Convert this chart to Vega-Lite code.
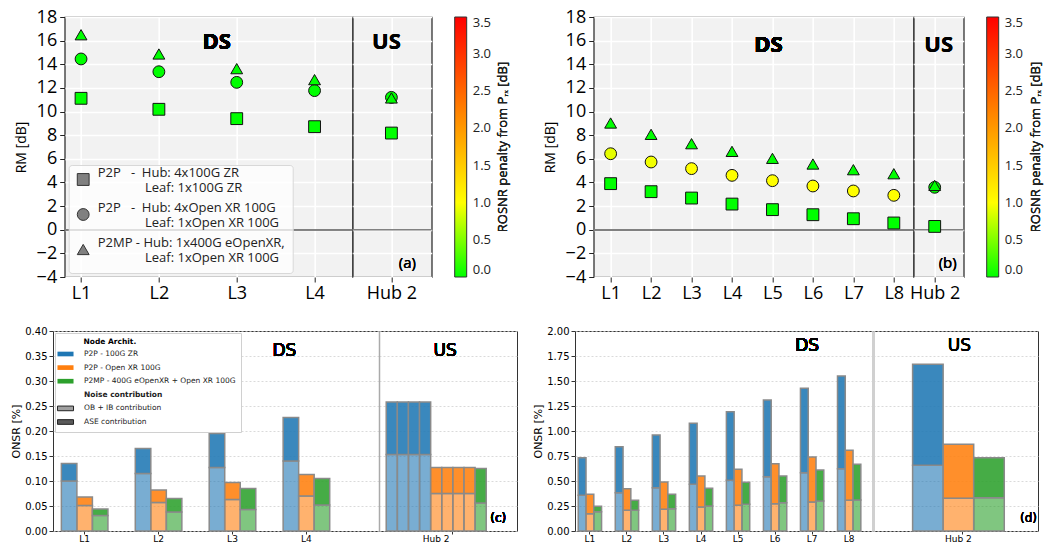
{
  "$schema": "https://vega.github.io/schema/vega-lite/v6.json",
  "background": "white",
  "padding": {"left": 10, "top": 7, "right": 2, "bottom": 2},
  "datasets": {
    "pa": [
      {"dir": "DS", "loc": "L1", "a": "ZR", "rm": 11.12, "p": 0},
      {"dir": "DS", "loc": "L1", "a": "XR", "rm": 14.45, "p": 0},
      {"dir": "DS", "loc": "L1", "a": "MP", "rm": 16.5, "p": 0},
      {"dir": "DS", "loc": "L2", "a": "ZR", "rm": 10.19, "p": 0},
      {"dir": "DS", "loc": "L2", "a": "XR", "rm": 13.37, "p": 0},
      {"dir": "DS", "loc": "L2", "a": "MP", "rm": 14.87, "p": 0},
      {"dir": "DS", "loc": "L3", "a": "ZR", "rm": 9.4, "p": 0},
      {"dir": "DS", "loc": "L3", "a": "XR", "rm": 12.47, "p": 0},
      {"dir": "DS", "loc": "L3", "a": "MP", "rm": 13.63, "p": 0},
      {"dir": "DS", "loc": "L4", "a": "ZR", "rm": 8.72, "p": 0},
      {"dir": "DS", "loc": "L4", "a": "XR", "rm": 11.77, "p": 0},
      {"dir": "DS", "loc": "L4", "a": "MP", "rm": 12.7, "p": 0},
      {"dir": "US", "loc": "Hub 2", "a": "ZR", "rm": 8.18, "p": 0},
      {"dir": "US", "loc": "Hub 2", "a": "XR", "rm": 11.2, "p": 0},
      {"dir": "US", "loc": "Hub 2", "a": "MP", "rm": 11.15, "p": 0}
    ],
    "pb": [
      {"dir": "DS", "loc": "L1", "a": "ZR", "rm": 3.9, "p": 0},
      {"dir": "DS", "loc": "L1", "a": "XR", "rm": 6.43, "p": 0.9},
      {"dir": "DS", "loc": "L1", "a": "MP", "rm": 9.03, "p": 0},
      {"dir": "DS", "loc": "L2", "a": "ZR", "rm": 3.22, "p": 0},
      {"dir": "DS", "loc": "L2", "a": "XR", "rm": 5.73, "p": 0.95},
      {"dir": "DS", "loc": "L2", "a": "MP", "rm": 8.07, "p": 0},
      {"dir": "DS", "loc": "L3", "a": "ZR", "rm": 2.68, "p": 0},
      {"dir": "DS", "loc": "L3", "a": "XR", "rm": 5.17, "p": 1.0},
      {"dir": "DS", "loc": "L3", "a": "MP", "rm": 7.28, "p": 0},
      {"dir": "DS", "loc": "L4", "a": "ZR", "rm": 2.17, "p": 0},
      {"dir": "DS", "loc": "L4", "a": "XR", "rm": 4.6, "p": 1.0},
      {"dir": "DS", "loc": "L4", "a": "MP", "rm": 6.63, "p": 0},
      {"dir": "DS", "loc": "L5", "a": "ZR", "rm": 1.7, "p": 0},
      {"dir": "DS", "loc": "L5", "a": "XR", "rm": 4.15, "p": 1.0},
      {"dir": "DS", "loc": "L5", "a": "MP", "rm": 6.04, "p": 0},
      {"dir": "DS", "loc": "L6", "a": "ZR", "rm": 1.27, "p": 0},
      {"dir": "DS", "loc": "L6", "a": "XR", "rm": 3.7, "p": 1.0},
      {"dir": "DS", "loc": "L6", "a": "MP", "rm": 5.56, "p": 0},
      {"dir": "DS", "loc": "L7", "a": "ZR", "rm": 0.93, "p": 0},
      {"dir": "DS", "loc": "L7", "a": "XR", "rm": 3.28, "p": 1.0},
      {"dir": "DS", "loc": "L7", "a": "MP", "rm": 5.08, "p": 0},
      {"dir": "DS", "loc": "L8", "a": "ZR", "rm": 0.57, "p": 0},
      {"dir": "DS", "loc": "L8", "a": "XR", "rm": 2.91, "p": 1.0},
      {"dir": "DS", "loc": "L8", "a": "MP", "rm": 4.74, "p": 0},
      {"dir": "US", "loc": "Hub 2", "a": "ZR", "rm": 0.28, "p": 0},
      {"dir": "US", "loc": "Hub 2", "a": "XR", "rm": 3.59, "p": 0},
      {"dir": "US", "loc": "Hub 2", "a": "MP", "rm": 3.75, "p": 0}
    ],
    "pc": [
      {"loc": "L1", "u": "ZR", "a": "ZR", "n": "OB", "v": 0.1},
      {"loc": "L1", "u": "ZR", "a": "ZR", "n": "ASE", "v": 0.035},
      {"loc": "L1", "u": "XR", "a": "XR", "n": "OB", "v": 0.051},
      {"loc": "L1", "u": "XR", "a": "XR", "n": "ASE", "v": 0.017},
      {"loc": "L1", "u": "MP", "a": "MP", "n": "OB", "v": 0.031},
      {"loc": "L1", "u": "MP", "a": "MP", "n": "ASE", "v": 0.013},
      {"loc": "L2", "u": "ZR", "a": "ZR", "n": "OB", "v": 0.115},
      {"loc": "L2", "u": "ZR", "a": "ZR", "n": "ASE", "v": 0.05},
      {"loc": "L2", "u": "XR", "a": "XR", "n": "OB", "v": 0.057},
      {"loc": "L2", "u": "XR", "a": "XR", "n": "ASE", "v": 0.025},
      {"loc": "L2", "u": "MP", "a": "MP", "n": "OB", "v": 0.038},
      {"loc": "L2", "u": "MP", "a": "MP", "n": "ASE", "v": 0.027},
      {"loc": "L3", "u": "ZR", "a": "ZR", "n": "OB", "v": 0.127},
      {"loc": "L3", "u": "ZR", "a": "ZR", "n": "ASE", "v": 0.068},
      {"loc": "L3", "u": "XR", "a": "XR", "n": "OB", "v": 0.063},
      {"loc": "L3", "u": "XR", "a": "XR", "n": "ASE", "v": 0.034},
      {"loc": "L3", "u": "MP", "a": "MP", "n": "OB", "v": 0.043},
      {"loc": "L3", "u": "MP", "a": "MP", "n": "ASE", "v": 0.042},
      {"loc": "L4", "u": "ZR", "a": "ZR", "n": "OB", "v": 0.14},
      {"loc": "L4", "u": "ZR", "a": "ZR", "n": "ASE", "v": 0.087},
      {"loc": "L4", "u": "XR", "a": "XR", "n": "OB", "v": 0.07},
      {"loc": "L4", "u": "XR", "a": "XR", "n": "ASE", "v": 0.043},
      {"loc": "L4", "u": "MP", "a": "MP", "n": "OB", "v": 0.052},
      {"loc": "L4", "u": "MP", "a": "MP", "n": "ASE", "v": 0.053},
      {"loc": "Hub 2", "u": "ZR1", "a": "ZR", "n": "OB", "v": 0.153},
      {"loc": "Hub 2", "u": "ZR1", "a": "ZR", "n": "ASE", "v": 0.105},
      {"loc": "Hub 2", "u": "ZR2", "a": "ZR", "n": "OB", "v": 0.153},
      {"loc": "Hub 2", "u": "ZR2", "a": "ZR", "n": "ASE", "v": 0.105},
      {"loc": "Hub 2", "u": "ZR3", "a": "ZR", "n": "OB", "v": 0.153},
      {"loc": "Hub 2", "u": "ZR3", "a": "ZR", "n": "ASE", "v": 0.105},
      {"loc": "Hub 2", "u": "ZR4", "a": "ZR", "n": "OB", "v": 0.153},
      {"loc": "Hub 2", "u": "ZR4", "a": "ZR", "n": "ASE", "v": 0.105},
      {"loc": "Hub 2", "u": "XR1", "a": "XR", "n": "OB", "v": 0.075},
      {"loc": "Hub 2", "u": "XR1", "a": "XR", "n": "ASE", "v": 0.052},
      {"loc": "Hub 2", "u": "XR2", "a": "XR", "n": "OB", "v": 0.075},
      {"loc": "Hub 2", "u": "XR2", "a": "XR", "n": "ASE", "v": 0.052},
      {"loc": "Hub 2", "u": "XR3", "a": "XR", "n": "OB", "v": 0.075},
      {"loc": "Hub 2", "u": "XR3", "a": "XR", "n": "ASE", "v": 0.052},
      {"loc": "Hub 2", "u": "XR4", "a": "XR", "n": "OB", "v": 0.075},
      {"loc": "Hub 2", "u": "XR4", "a": "XR", "n": "ASE", "v": 0.052},
      {"loc": "Hub 2", "u": "MP", "a": "MP", "n": "OB", "v": 0.056},
      {"loc": "Hub 2", "u": "MP", "a": "MP", "n": "ASE", "v": 0.069}
    ],
    "pd": [
      {"loc": "L1", "u": "ZR", "a": "ZR", "n": "OB", "v": 0.357},
      {"loc": "L1", "u": "ZR", "a": "ZR", "n": "ASE", "v": 0.376},
      {"loc": "L1", "u": "XR", "a": "XR", "n": "OB", "v": 0.173},
      {"loc": "L1", "u": "XR", "a": "XR", "n": "ASE", "v": 0.194},
      {"loc": "L1", "u": "MP", "a": "MP", "n": "OB", "v": 0.193},
      {"loc": "L1", "u": "MP", "a": "MP", "n": "ASE", "v": 0.054},
      {"loc": "L2", "u": "ZR", "a": "ZR", "n": "OB", "v": 0.383},
      {"loc": "L2", "u": "ZR", "a": "ZR", "n": "ASE", "v": 0.46},
      {"loc": "L2", "u": "XR", "a": "XR", "n": "OB", "v": 0.207},
      {"loc": "L2", "u": "XR", "a": "XR", "n": "ASE", "v": 0.216},
      {"loc": "L2", "u": "MP", "a": "MP", "n": "OB", "v": 0.207},
      {"loc": "L2", "u": "MP", "a": "MP", "n": "ASE", "v": 0.1},
      {"loc": "L3", "u": "ZR", "a": "ZR", "n": "OB", "v": 0.433},
      {"loc": "L3", "u": "ZR", "a": "ZR", "n": "ASE", "v": 0.527},
      {"loc": "L3", "u": "XR", "a": "XR", "n": "OB", "v": 0.217},
      {"loc": "L3", "u": "XR", "a": "XR", "n": "ASE", "v": 0.273},
      {"loc": "L3", "u": "MP", "a": "MP", "n": "OB", "v": 0.223},
      {"loc": "L3", "u": "MP", "a": "MP", "n": "ASE", "v": 0.144},
      {"loc": "L4", "u": "ZR", "a": "ZR", "n": "OB", "v": 0.467},
      {"loc": "L4", "u": "ZR", "a": "ZR", "n": "ASE", "v": 0.61},
      {"loc": "L4", "u": "XR", "a": "XR", "n": "OB", "v": 0.24},
      {"loc": "L4", "u": "XR", "a": "XR", "n": "ASE", "v": 0.31},
      {"loc": "L4", "u": "MP", "a": "MP", "n": "OB", "v": 0.25},
      {"loc": "L4", "u": "MP", "a": "MP", "n": "ASE", "v": 0.177},
      {"loc": "L5", "u": "ZR", "a": "ZR", "n": "OB", "v": 0.507},
      {"loc": "L5", "u": "ZR", "a": "ZR", "n": "ASE", "v": 0.686},
      {"loc": "L5", "u": "XR", "a": "XR", "n": "OB", "v": 0.257},
      {"loc": "L5", "u": "XR", "a": "XR", "n": "ASE", "v": 0.36},
      {"loc": "L5", "u": "MP", "a": "MP", "n": "OB", "v": 0.267},
      {"loc": "L5", "u": "MP", "a": "MP", "n": "ASE", "v": 0.22},
      {"loc": "L6", "u": "ZR", "a": "ZR", "n": "OB", "v": 0.543},
      {"loc": "L6", "u": "ZR", "a": "ZR", "n": "ASE", "v": 0.767},
      {"loc": "L6", "u": "XR", "a": "XR", "n": "OB", "v": 0.273},
      {"loc": "L6", "u": "XR", "a": "XR", "n": "ASE", "v": 0.4},
      {"loc": "L6", "u": "MP", "a": "MP", "n": "OB", "v": 0.283},
      {"loc": "L6", "u": "MP", "a": "MP", "n": "ASE", "v": 0.267},
      {"loc": "L7", "u": "ZR", "a": "ZR", "n": "OB", "v": 0.583},
      {"loc": "L7", "u": "ZR", "a": "ZR", "n": "ASE", "v": 0.844},
      {"loc": "L7", "u": "XR", "a": "XR", "n": "OB", "v": 0.29},
      {"loc": "L7", "u": "XR", "a": "XR", "n": "ASE", "v": 0.45},
      {"loc": "L7", "u": "MP", "a": "MP", "n": "OB", "v": 0.3},
      {"loc": "L7", "u": "MP", "a": "MP", "n": "ASE", "v": 0.31},
      {"loc": "L8", "u": "ZR", "a": "ZR", "n": "OB", "v": 0.623},
      {"loc": "L8", "u": "ZR", "a": "ZR", "n": "ASE", "v": 0.927},
      {"loc": "L8", "u": "XR", "a": "XR", "n": "OB", "v": 0.307},
      {"loc": "L8", "u": "XR", "a": "XR", "n": "ASE", "v": 0.5},
      {"loc": "L8", "u": "MP", "a": "MP", "n": "OB", "v": 0.31},
      {"loc": "L8", "u": "MP", "a": "MP", "n": "ASE", "v": 0.357},
      {"loc": "Hub 2", "u": "ZR", "a": "ZR", "n": "OB", "v": 0.657},
      {"loc": "Hub 2", "u": "ZR", "a": "ZR", "n": "ASE", "v": 1.01},
      {"loc": "Hub 2", "u": "XR", "a": "XR", "n": "OB", "v": 0.327},
      {"loc": "Hub 2", "u": "XR", "a": "XR", "n": "ASE", "v": 0.54},
      {"loc": "Hub 2", "u": "MP", "a": "MP", "n": "OB", "v": 0.333},
      {"loc": "Hub 2", "u": "MP", "a": "MP", "n": "ASE", "v": 0.4}
    ]
  },
  "spacing": 22,
  "columns": 1,
  "resolve": {"scale": {"fill": "independent", "shape": "independent", "fillOpacity": "independent", "xOffset": "independent"}, "legend": {"fill": "independent", "shape": "independent", "fillOpacity": "independent"}},
  "concat": [
    {
      "spacing": 10.7,
      "bounds": "flush",
      "resolve": {"scale": {"fill": "independent", "shape": "independent", "fillOpacity": "independent", "xOffset": "independent"}, "legend": {"fill": "independent", "shape": "independent", "fillOpacity": "independent"}},
      "hconcat": [
        {"width": 1, "height": 1, "view": {"stroke": null, "fill": null}, "data": {"values": []}, "mark": {"type": "text"}, "encoding": {}},
        {
          "spacing": 30,
          "resolve": {"scale": {"fill": "independent", "shape": "independent", "fillOpacity": "independent", "xOffset": "independent"}, "legend": {"fill": "independent", "shape": "independent", "fillOpacity": "independent"}},
          "hconcat": [
            {
              "spacing": 0,
              "bounds": "flush",
              "resolve": {"scale": {"fill": "independent", "shape": "independent", "fillOpacity": "independent", "xOffset": "independent"}, "legend": {"fill": "independent", "shape": "independent", "fillOpacity": "independent"}},
              "hconcat": [
                {
                  "width": 288, "height": 260,
                  "view": {"fill": "#f2f2f2", "stroke": "#222", "strokeWidth": 1.2},
                  "data": {"name": "pa"},
                  "transform": [{"filter": "datum.dir == 'DS'"}],
                  "layer": [
                    {"mark": {"type": "rule", "color": "#808080", "strokeWidth": 1}, "encoding": {"y": {"datum": 0, "type": "quantitative", "scale": {"domain": [-4, 18], "nice": false, "zero": false},
                      "axis": {"title": "RM [dB]", "titleFont": "Open Sans", "titleFontSize": 14, "titleFontWeight": "normal", "titleColor": "black", "titlePadding": 8, "values": [-4, -2, 0, 2, 4, 6, 8, 10, 12, 14, 16, 18], "labelOverlap": false, "labelFontSize": 18, "labelFont": "Open Sans", "labelColor": "black", "labelPadding": 3, "tickSize": 5, "tickColor": "#222", "domain": false, "grid": true, "gridColor": "white", "gridWidth": 1.6}}}},
                    {
                      "mark": {"type": "point", "filled": true, "size": 140, "stroke": "#111", "strokeWidth": 1, "opacity": 1},
                      "encoding": {
                        "x": {"field": "loc", "type": "ordinal", "sort": null, "scale": {"type": "point", "domain": ["L1", "L2", "L3", "L4"], "padding": 0.35, "align": 0.3},
                          "axis": {"title": null, "labelFontSize": 18, "labelFont": "Open Sans", "labelAngle": 0, "labelColor": "black", "labelPadding": 2, "tickSize": 5, "tickColor": "#222", "domain": false, "grid": true, "gridColor": "white", "gridWidth": 1.6}},
                        "y": {"field": "rm", "type": "quantitative", "scale": {"domain": [-4, 18], "nice": false, "zero": false},
                          "axis": {"title": "RM [dB]", "titleFont": "Open Sans", "titleFontSize": 14, "titleFontWeight": "normal", "titleColor": "black", "titlePadding": 8, "values": [-4, -2, 0, 2, 4, 6, 8, 10, 12, 14, 16, 18], "labelOverlap": false, "labelFontSize": 18, "labelFont": "Open Sans", "labelColor": "black", "labelPadding": 3, "tickSize": 5, "tickColor": "#222", "domain": false, "grid": true, "gridColor": "white", "gridWidth": 1.6}},
                        "shape": {"field": "a", "type": "nominal", "scale": {"domain": ["ZR", "XR", "MP"], "range": ["square", "circle", "triangle-up"]},
                          "legend": {"orient": "bottom-left", "offset": 4, "title": null, "fillColor": "rgba(255,255,255,0.75)", "strokeColor": "#d8d8d8", "cornerRadius": 3, "padding": 8, "symbolFillColor": "#808080", "symbolStrokeColor": "#333", "symbolStrokeWidth": 1, "symbolSize": 140, "symbolOpacity": 1, "labelFont": "Open Sans", "labelFontSize": 13, "labelColor": "#222", "labelOffset": 8, "labelBaseline": "bottom", "rowPadding": 6, "labelLimit": 400,
                            "labelExpr": "datum.value == 'ZR' ? ['P2P\u00a0\u00a0\u00a0-\u00a0\u00a0Hub: 4x100G ZR', '\u200b\u00a0\u00a0\u00a0\u00a0\u00a0\u00a0\u00a0\u00a0\u00a0\u00a0\u00a0\u00a0\u00a0\u00a0Leaf: 1x100G ZR'] : datum.value == 'XR' ? ['P2P\u00a0\u00a0\u00a0-\u00a0\u00a0Hub: 4xOpen XR 100G', '\u200b\u00a0\u00a0\u00a0\u00a0\u00a0\u00a0\u00a0\u00a0\u00a0\u00a0\u00a0\u00a0\u00a0\u00a0Leaf: 1xOpen XR 100G'] : ['P2MP - Hub: 1x400G eOpenXR,', '\u200b\u00a0\u00a0\u00a0\u00a0\u00a0\u00a0\u00a0\u00a0\u00a0\u00a0\u00a0\u00a0\u00a0\u00a0Leaf: 1xOpen XR 100G']"}},
                        "fill": {"field": "p", "type": "quantitative", "scale": {"type": "linear", "domain": [0, 1, 3.5], "range": ["#00ff00", "#ffff00", "#ff0000"], "interpolate": "rgb"}, "legend": null}
                      }
                    },
                    {"mark": {"type": "text", "font": "Open Sans", "fontSize": 22, "fontWeight": "bold", "dx": -20, "color": "black"}, "encoding": {"x": {"datum": "L3", "type": "ordinal"}, "y": {"datum": 15.9, "type": "quantitative", "scale": {"domain": [-4, 18], "nice": false, "zero": false},
                      "axis": {"title": "RM [dB]", "titleFont": "Open Sans", "titleFontSize": 14, "titleFontWeight": "normal", "titleColor": "black", "titlePadding": 8, "values": [-4, -2, 0, 2, 4, 6, 8, 10, 12, 14, 16, 18], "labelOverlap": false, "labelFontSize": 18, "labelFont": "Open Sans", "labelColor": "black", "labelPadding": 3, "tickSize": 5, "tickColor": "#222", "domain": false, "grid": true, "gridColor": "white", "gridWidth": 1.6}}, "text": {"value": "DS"}}}
                  ]
                },
                {
                  "width": 79, "height": 260,
                  "view": {"fill": "#f2f2f2", "stroke": "#222", "strokeWidth": 1.2},
                  "data": {"name": "pa"},
                  "transform": [{"filter": "datum.dir == 'US'"}],
                  "layer": [
                    {"mark": {"type": "rule", "color": "#808080", "strokeWidth": 1}, "encoding": {"y": {"datum": 0, "type": "quantitative", "scale": {"domain": [-4, 18], "nice": false, "zero": false},
                      "axis": {"title": null, "labels": false, "ticks": false, "domain": false, "values": [-4, -2, 0, 2, 4, 6, 8, 10, 12, 14, 16, 18], "grid": true, "gridColor": "white", "gridWidth": 1.6}}}},
                    {
                      "mark": {"type": "point", "filled": true, "size": 140, "stroke": "#111", "strokeWidth": 1, "opacity": 1},
                      "encoding": {
                        "x": {"field": "loc", "type": "ordinal", "sort": null, "scale": {"type": "point", "domain": ["Hub 2"], "padding": 0.5, "align": 0.49},
                          "axis": {"title": null, "labelFontSize": 18, "labelFont": "Open Sans", "labelAngle": 0, "labelColor": "black", "labelPadding": 2, "tickSize": 5, "tickColor": "#222", "domain": false, "grid": true, "gridColor": "white", "gridWidth": 1.6}},
                        "y": {"field": "rm", "type": "quantitative", "scale": {"domain": [-4, 18], "nice": false, "zero": false},
                          "axis": {"title": null, "labels": false, "ticks": false, "domain": false, "values": [-4, -2, 0, 2, 4, 6, 8, 10, 12, 14, 16, 18], "grid": true, "gridColor": "white", "gridWidth": 1.6}},
                        "shape": {"field": "a", "type": "nominal", "scale": {"domain": ["ZR", "XR", "MP"], "range": ["square", "circle", "triangle-up"]}, "legend": null},
                        "fill": {"field": "p", "type": "quantitative", "scale": {"type": "linear", "domain": [0, 1, 3.5], "range": ["#00ff00", "#ffff00", "#ff0000"], "interpolate": "rgb"},
                          "legend": {"orient": "right", "offset": 23, "direction": "vertical", "gradientLength": 260, "gradientThickness": 12, "gradientStrokeColor": "#333", "gradientStrokeWidth": 1, "values": [0, 0.5, 1, 1.5, 2, 2.5, 3, 3.5], "format": ".1f", "labelFont": "Open Sans", "labelFontSize": 13, "labelColor": "#222", "labelOffset": 6, "labelOverlap": false, "title": null, "padding": 0}}
                      }
                    },
                    {"mark": {"type": "text", "font": "Open Sans", "fontSize": 22, "fontWeight": "bold", "dx": -5, "color": "black"}, "encoding": {"x": {"datum": "Hub 2", "type": "ordinal"}, "y": {"datum": 15.9, "type": "quantitative", "scale": {"domain": [-4, 18], "nice": false, "zero": false},
                      "axis": {"title": null, "labels": false, "ticks": false, "domain": false, "values": [-4, -2, 0, 2, 4, 6, 8, 10, 12, 14, 16, 18], "grid": true, "gridColor": "white", "gridWidth": 1.6}}, "text": {"value": "US"}}},
                    {"mark": {"type": "text", "font": "Open Sans", "fontSize": 15, "dx": 16, "color": "black"}, "encoding": {"x": {"datum": "Hub 2", "type": "ordinal"}, "y": {"datum": -2.8, "type": "quantitative", "scale": {"domain": [-4, 18], "nice": false, "zero": false},
                      "axis": {"title": null, "labels": false, "ticks": false, "domain": false, "values": [-4, -2, 0, 2, 4, 6, 8, 10, 12, 14, 16, 18], "grid": true, "gridColor": "white", "gridWidth": 1.6}}, "text": {"value": "(a)"}}},
                    {"mark": {"type": "text", "font": "Open Sans", "fontSize": 13, "angle": 270, "align": "center", "baseline": "middle", "dy": 112, "color": "#222"}, "encoding": {"x": {"datum": "Hub 2", "type": "ordinal"}, "y": {"datum": 7, "type": "quantitative", "scale": {"domain": [-4, 18], "nice": false, "zero": false},
                      "axis": {"title": null, "labels": false, "ticks": false, "domain": false, "values": [-4, -2, 0, 2, 4, 6, 8, 10, 12, 14, 16, 18], "grid": true, "gridColor": "white", "gridWidth": 1.6}}, "text": {"value": "ROSNR penalty from Pᵣₓ [dB]"}}}
                  ]
                }
              ]
            },
            {
              "spacing": 0,
              "bounds": "flush",
              "resolve": {"scale": {"fill": "independent", "shape": "independent", "fillOpacity": "independent", "xOffset": "independent"}, "legend": {"fill": "independent", "shape": "independent", "fillOpacity": "independent"}},
              "hconcat": [
                {
                  "width": 320, "height": 260,
                  "view": {"fill": "#f2f2f2", "stroke": "#222", "strokeWidth": 1.2},
                  "data": {"name": "pb"},
                  "transform": [{"filter": "datum.dir == 'DS'"}],
                  "layer": [
                    {"mark": {"type": "rule", "color": "#808080", "strokeWidth": 1}, "encoding": {"y": {"datum": 0, "type": "quantitative", "scale": {"domain": [-4, 18], "nice": false, "zero": false},
                      "axis": {"title": "RM [dB]", "titleFont": "Open Sans", "titleFontSize": 14, "titleFontWeight": "normal", "titleColor": "black", "titlePadding": 8, "values": [-4, -2, 0, 2, 4, 6, 8, 10, 12, 14, 16, 18], "labelOverlap": false, "labelFontSize": 18, "labelFont": "Open Sans", "labelColor": "black", "labelPadding": 3, "tickSize": 5, "tickColor": "#222", "domain": false, "grid": true, "gridColor": "white", "gridWidth": 1.6}}}},
                    {
                      "mark": {"type": "point", "filled": true, "size": 140, "stroke": "#111", "strokeWidth": 1, "opacity": 1},
                      "encoding": {
                        "x": {"field": "loc", "type": "ordinal", "sort": null, "scale": {"type": "point", "domain": ["L1", "L2", "L3", "L4", "L5", "L6", "L7", "L8"], "padding": 0.455, "align": 0.46},
                          "axis": {"title": null, "labelFontSize": 18, "labelFont": "Open Sans", "labelAngle": 0, "labelColor": "black", "labelPadding": 2, "tickSize": 5, "tickColor": "#222", "domain": false, "grid": true, "gridColor": "white", "gridWidth": 1.6}},
                        "y": {"field": "rm", "type": "quantitative", "scale": {"domain": [-4, 18], "nice": false, "zero": false},
                          "axis": {"title": "RM [dB]", "titleFont": "Open Sans", "titleFontSize": 14, "titleFontWeight": "normal", "titleColor": "black", "titlePadding": 8, "values": [-4, -2, 0, 2, 4, 6, 8, 10, 12, 14, 16, 18], "labelOverlap": false, "labelFontSize": 18, "labelFont": "Open Sans", "labelColor": "black", "labelPadding": 3, "tickSize": 5, "tickColor": "#222", "domain": false, "grid": true, "gridColor": "white", "gridWidth": 1.6}},
                        "shape": {"field": "a", "type": "nominal", "scale": {"domain": ["ZR", "XR", "MP"], "range": ["square", "circle", "triangle-up"]}, "legend": null},
                        "fill": {"field": "p", "type": "quantitative", "scale": {"type": "linear", "domain": [0, 1, 3.5], "range": ["#00ff00", "#ffff00", "#ff0000"], "interpolate": "rgb"}, "legend": null}
                      }
                    },
                    {"mark": {"type": "text", "font": "Open Sans", "fontSize": 22, "fontWeight": "bold", "dx": -4, "color": "black"}, "encoding": {"x": {"datum": "L5", "type": "ordinal"}, "y": {"datum": 15.6, "type": "quantitative", "scale": {"domain": [-4, 18], "nice": false, "zero": false},
                      "axis": {"title": "RM [dB]", "titleFont": "Open Sans", "titleFontSize": 14, "titleFontWeight": "normal", "titleColor": "black", "titlePadding": 8, "values": [-4, -2, 0, 2, 4, 6, 8, 10, 12, 14, 16, 18], "labelOverlap": false, "labelFontSize": 18, "labelFont": "Open Sans", "labelColor": "black", "labelPadding": 3, "tickSize": 5, "tickColor": "#222", "domain": false, "grid": true, "gridColor": "white", "gridWidth": 1.6}}, "text": {"value": "DS"}}}
                  ]
                },
                {
                  "width": 50, "height": 260,
                  "view": {"fill": "#f2f2f2", "stroke": "#222", "strokeWidth": 1.2},
                  "data": {"name": "pb"},
                  "transform": [{"filter": "datum.dir == 'US'"}],
                  "layer": [
                    {"mark": {"type": "rule", "color": "#808080", "strokeWidth": 1}, "encoding": {"y": {"datum": 0, "type": "quantitative", "scale": {"domain": [-4, 18], "nice": false, "zero": false},
                      "axis": {"title": null, "labels": false, "ticks": false, "domain": false, "values": [-4, -2, 0, 2, 4, 6, 8, 10, 12, 14, 16, 18], "grid": true, "gridColor": "white", "gridWidth": 1.6}}}},
                    {
                      "mark": {"type": "point", "filled": true, "size": 140, "stroke": "#111", "strokeWidth": 1, "opacity": 1},
                      "encoding": {
                        "x": {"field": "loc", "type": "ordinal", "sort": null, "scale": {"type": "point", "domain": ["Hub 2"], "padding": 0.5, "align": 0.42},
                          "axis": {"title": null, "labelFontSize": 18, "labelFont": "Open Sans", "labelAngle": 0, "labelColor": "black", "labelPadding": 2, "tickSize": 5, "tickColor": "#222", "domain": false, "grid": true, "gridColor": "white", "gridWidth": 1.6}},
                        "y": {"field": "rm", "type": "quantitative", "scale": {"domain": [-4, 18], "nice": false, "zero": false},
                          "axis": {"title": null, "labels": false, "ticks": false, "domain": false, "values": [-4, -2, 0, 2, 4, 6, 8, 10, 12, 14, 16, 18], "grid": true, "gridColor": "white", "gridWidth": 1.6}},
                        "shape": {"field": "a", "type": "nominal", "scale": {"domain": ["ZR", "XR", "MP"], "range": ["square", "circle", "triangle-up"]}, "legend": null},
                        "fill": {"field": "p", "type": "quantitative", "scale": {"type": "linear", "domain": [0, 1, 3.5], "range": ["#00ff00", "#ffff00", "#ff0000"], "interpolate": "rgb"},
                          "legend": {"orient": "right", "offset": 23, "direction": "vertical", "gradientLength": 260, "gradientThickness": 12, "gradientStrokeColor": "#333", "gradientStrokeWidth": 1, "values": [0, 0.5, 1, 1.5, 2, 2.5, 3, 3.5], "format": ".1f", "labelFont": "Open Sans", "labelFontSize": 13, "labelColor": "#222", "labelOffset": 6, "labelOverlap": false, "title": null, "padding": 0}}
                      }
                    },
                    {"mark": {"type": "text", "font": "Open Sans", "fontSize": 22, "fontWeight": "bold", "dx": 4, "color": "black"}, "encoding": {"x": {"datum": "Hub 2", "type": "ordinal"}, "y": {"datum": 15.6, "type": "quantitative", "scale": {"domain": [-4, 18], "nice": false, "zero": false},
                      "axis": {"title": null, "labels": false, "ticks": false, "domain": false, "values": [-4, -2, 0, 2, 4, 6, 8, 10, 12, 14, 16, 18], "grid": true, "gridColor": "white", "gridWidth": 1.6}}, "text": {"value": "US"}}},
                    {"mark": {"type": "text", "font": "Open Sans", "fontSize": 15, "dx": 13, "color": "black"}, "encoding": {"x": {"datum": "Hub 2", "type": "ordinal"}, "y": {"datum": -2.8, "type": "quantitative", "scale": {"domain": [-4, 18], "nice": false, "zero": false},
                      "axis": {"title": null, "labels": false, "ticks": false, "domain": false, "values": [-4, -2, 0, 2, 4, 6, 8, 10, 12, 14, 16, 18], "grid": true, "gridColor": "white", "gridWidth": 1.6}}, "text": {"value": "(b)"}}},
                    {"mark": {"type": "text", "font": "Open Sans", "fontSize": 13, "angle": 270, "align": "center", "baseline": "middle", "dy": 101, "color": "#222"}, "encoding": {"x": {"datum": "Hub 2", "type": "ordinal"}, "y": {"datum": 7, "type": "quantitative", "scale": {"domain": [-4, 18], "nice": false, "zero": false},
                      "axis": {"title": null, "labels": false, "ticks": false, "domain": false, "values": [-4, -2, 0, 2, 4, 6, 8, 10, 12, 14, 16, 18], "grid": true, "gridColor": "white", "gridWidth": 1.6}}, "text": {"value": "ROSNR penalty from Pᵣₓ [dB]"}}}
                  ]
                }
              ]
            }
          ]
        }
      ]
    },
    {
      "spacing": 14,
      "resolve": {"scale": {"fill": "independent", "shape": "independent", "fillOpacity": "independent", "xOffset": "independent"}, "legend": {"fill": "independent", "shape": "independent", "fillOpacity": "independent"}},
      "hconcat": [
        {
          "spacing": 0,
          "bounds": "flush",
          "resolve": {"scale": {"fill": "independent", "shape": "independent", "fillOpacity": "independent", "xOffset": "independent"}, "legend": {"fill": "independent", "shape": "independent", "fillOpacity": "independent"}},
          "hconcat": [
            {
              "width": 326, "height": 200,
              "view": {"fill": "white", "stroke": "#333", "strokeWidth": 1},
              "data": {"name": "pc"},
              "transform": [{"filter": "datum.loc != 'Hub 2'"}],
              "layer": [
                {
                  "mark": {"type": "bar", "stroke": "#8a8a8a", "strokeWidth": 1.5},
                  "encoding": {
                    "x": {"field": "loc", "type": "nominal", "sort": null, "scale": {"type": "band", "domain": ["L1", "L2", "L3", "L4"], "paddingInner": 0.37, "paddingOuter": 0.39, "align": 0.145},
                      "axis": {"title": null, "labelFont": "DejaVu Sans", "labelFontSize": 9, "labelColor": "black", "labelAngle": 0, "labelPadding": 0, "tickSize": 3, "tickColor": "#333", "domain": false, "grid": false}},
                    "xOffset": {"field": "u", "type": "nominal", "sort": null, "scale": {"domain": ["ZR", "XR", "MP"], "paddingInner": 0, "paddingOuter": 0}},
                    "y": {"field": "v", "type": "quantitative", "stack": "zero", "scale": {"domain": [0, 0.4], "nice": false},
                      "axis": {"title": "ONSR [%]", "titleFont": "DejaVu Sans", "titleFontSize": 11, "titleFontWeight": "normal", "titleColor": "black", "titlePadding": 3, "values": [0, 0.05, 0.1, 0.15, 0.2, 0.25, 0.3, 0.35, 0.4], "labelOverlap": false, "format": ".2f", "labelFont": "DejaVu Sans", "labelFontSize": 10, "labelColor": "black", "labelPadding": 2, "tickSize": 4, "tickColor": "#333", "domain": false, "grid": true, "gridColor": "#d0d0d0", "gridDash": [2, 2], "gridWidth": 0.8}},
                    "fill": {"field": "a", "type": "nominal", "scale": {"domain": ["ZR", "XR", "MP", "HDR", "OB", "ASE"], "range": ["#1f77b4", "#ff7f0e", "#2ca02c", "rgba(0,0,0,0)", "#a0a0a0", "#5a5a5a"]},
                      "legend": {"orient": "top-left", "offset": 2, "title": "\u200b\u00a0\u00a0\u00a0\u00a0\u00a0\u00a0\u00a0\u00a0\u00a0Node Archit.", "titleFont": "DejaVu Sans", "titleFontSize": 7.5, "titleFontWeight": "bold", "titleColor": "black", "titlePadding": 3, "labelFont": "DejaVu Sans", "labelFontSize": 7.5, "labelColor": "#222", "symbolType": "M -1.72 -0.5 H 1.72 V 0.5 H -1.72 Z", "symbolSize": 87, "symbolOpacity": 1, "symbolStrokeWidth": 1, "labelOffset": 13, "fillColor": "white", "strokeColor": "#d0d0d0", "padding": 5, "rowPadding": 3.6, "labelLimit": 300,
                        "labelFontWeight": {"expr": "datum.value == 'HDR' ? 'bold' : 'normal'"},
                        "symbolStrokeColor": {"expr": "datum.value == 'OB' || datum.value == 'ASE' ? '#222' : 'rgba(0,0,0,0)'"},
                        "labelExpr": "datum.value == 'ZR' ? 'P2P - 100G ZR' : datum.value == 'XR' ? 'P2P - Open XR 100G' : datum.value == 'MP' ? 'P2MP - 400G eOpenXR + Open XR 100G' : datum.value == 'HDR' ? 'Noise contribution' : datum.value == 'OB' ? 'OB + IB contribution' : 'ASE contribution'"}},
                    "fillOpacity": {"field": "n", "type": "nominal", "scale": {"domain": ["OB", "ASE"], "range": [0.6, 0.88]}, "legend": null},
                    "order": {"field": "n", "type": "nominal", "sort": "descending"}
                  }
                },
                {"mark": {"type": "text", "font": "DejaVu Sans", "fontSize": 17, "dx": -22, "color": "black"}, "encoding": {"x": {"datum": "L4", "type": "nominal"}, "y": {"datum": 0.36, "type": "quantitative", "scale": {"domain": [0, 0.4], "nice": false},
                  "axis": {"title": "ONSR [%]", "titleFont": "DejaVu Sans", "titleFontSize": 11, "titleFontWeight": "normal", "titleColor": "black", "titlePadding": 3, "values": [0, 0.05, 0.1, 0.15, 0.2, 0.25, 0.3, 0.35, 0.4], "labelOverlap": false, "format": ".2f", "labelFont": "DejaVu Sans", "labelFontSize": 10, "labelColor": "black", "labelPadding": 2, "tickSize": 4, "tickColor": "#333", "domain": false, "grid": true, "gridColor": "#d0d0d0", "gridDash": [2, 2], "gridWidth": 0.8}}, "text": {"value": "DS"}}}
              ]
            },
            {
              "width": 138, "height": 200,
              "view": {"fill": "white", "stroke": "#333", "strokeWidth": 1},
              "data": {"name": "pc"},
              "transform": [{"filter": "datum.loc == 'Hub 2'"}],
              "layer": [
                {
                  "mark": {"type": "bar", "stroke": "#8a8a8a", "strokeWidth": 1.5},
                  "encoding": {
                    "x": {"field": "loc", "type": "nominal", "sort": null, "scale": {"type": "band", "domain": ["Hub 2"], "paddingInner": 0, "paddingOuter": 0.19, "align": 0.19},
                      "axis": {"title": null, "bandPosition": 0.66, "labelFont": "DejaVu Sans", "labelFontSize": 9, "labelColor": "black", "labelAngle": 0, "labelPadding": 0, "tickSize": 3, "tickColor": "#333", "domain": false, "grid": false}},
                    "xOffset": {"field": "u", "type": "nominal", "sort": null, "scale": {"domain": ["ZR1", "ZR2", "ZR3", "ZR4", "XR1", "XR2", "XR3", "XR4", "MP"], "paddingInner": 0, "paddingOuter": 0}},
                    "y": {"field": "v", "type": "quantitative", "stack": "zero", "scale": {"domain": [0, 0.4], "nice": false},
                      "axis": {"title": null, "labels": false, "ticks": false, "values": [0, 0.05, 0.1, 0.15, 0.2, 0.25, 0.3, 0.35, 0.4], "domain": true, "domainColor": "#aaaaaa", "domainWidth": 1.5, "grid": true, "gridColor": "#d0d0d0", "gridDash": [2, 2], "gridWidth": 0.8}},
                    "fill": {"field": "a", "type": "nominal", "scale": {"domain": ["ZR", "XR", "MP"], "range": ["#1f77b4", "#ff7f0e", "#2ca02c"]}, "legend": null},
                    "fillOpacity": {"field": "n", "type": "nominal", "scale": {"domain": ["OB", "ASE"], "range": [0.6, 0.88]}, "legend": null},
                    "order": {"field": "n", "type": "nominal", "sort": "descending"}
                  }
                },
                {"mark": {"type": "text", "font": "DejaVu Sans", "fontSize": 17, "dx": 9, "color": "black"}, "encoding": {"x": {"datum": "Hub 2", "type": "nominal"}, "y": {"datum": 0.36, "type": "quantitative", "scale": {"domain": [0, 0.4], "nice": false},
                  "axis": {"title": null, "labels": false, "ticks": false, "values": [0, 0.05, 0.1, 0.15, 0.2, 0.25, 0.3, 0.35, 0.4], "domain": true, "domainColor": "#aaaaaa", "domainWidth": 1.5, "grid": true, "gridColor": "#d0d0d0", "gridDash": [2, 2], "gridWidth": 0.8}}, "text": {"value": "US"}}},
                {"mark": {"type": "text", "font": "DejaVu Sans", "fontSize": 12, "dx": 62, "color": "black"}, "encoding": {"x": {"datum": "Hub 2", "type": "nominal"}, "y": {"datum": 0.027, "type": "quantitative", "scale": {"domain": [0, 0.4], "nice": false},
                  "axis": {"title": null, "labels": false, "ticks": false, "values": [0, 0.05, 0.1, 0.15, 0.2, 0.25, 0.3, 0.35, 0.4], "domain": true, "domainColor": "#aaaaaa", "domainWidth": 1.5, "grid": true, "gridColor": "#d0d0d0", "gridDash": [2, 2], "gridWidth": 0.8}}, "text": {"value": "(c)"}}}
              ]
            }
          ]
        },
        {
          "spacing": 0,
          "bounds": "flush",
          "resolve": {"scale": {"fill": "independent", "shape": "independent", "fillOpacity": "independent", "xOffset": "independent"}, "legend": {"fill": "independent", "shape": "independent", "fillOpacity": "independent"}},
          "hconcat": [
            {
              "width": 298, "height": 200,
              "view": {"fill": "white", "stroke": "#333", "strokeWidth": 1},
              "data": {"name": "pd"},
              "transform": [{"filter": "datum.loc != 'Hub 2'"}],
              "layer": [
                {
                  "mark": {"type": "bar", "stroke": "#8a8a8a", "strokeWidth": 1.5},
                  "encoding": {
                    "x": {"field": "loc", "type": "nominal", "sort": null, "scale": {"type": "band", "domain": ["L1", "L2", "L3", "L4", "L5", "L6", "L7", "L8"], "paddingInner": 0.37, "paddingOuter": 0.208, "align": 0.21},
                      "axis": {"title": null, "labelFont": "DejaVu Sans", "labelFontSize": 9, "labelColor": "black", "labelAngle": 0, "labelPadding": 0, "tickSize": 3, "tickColor": "#333", "domain": false, "grid": false}},
                    "xOffset": {"field": "u", "type": "nominal", "sort": null, "scale": {"domain": ["ZR", "XR", "MP"], "paddingInner": 0, "paddingOuter": 0}},
                    "y": {"field": "v", "type": "quantitative", "stack": "zero", "scale": {"domain": [0, 2], "nice": false},
                      "axis": {"title": "ONSR [%]", "titleFont": "DejaVu Sans", "titleFontSize": 11, "titleFontWeight": "normal", "titleColor": "black", "titlePadding": 3, "values": [0, 0.25, 0.5, 0.75, 1, 1.25, 1.5, 1.75, 2], "labelOverlap": false, "format": ".2f", "labelFont": "DejaVu Sans", "labelFontSize": 10, "labelColor": "black", "labelPadding": 2, "tickSize": 4, "tickColor": "#333", "domain": false, "grid": true, "gridColor": "#d0d0d0", "gridDash": [2, 2], "gridWidth": 0.8}},
                    "fill": {"field": "a", "type": "nominal", "scale": {"domain": ["ZR", "XR", "MP"], "range": ["#1f77b4", "#ff7f0e", "#2ca02c"]}, "legend": null},
                    "fillOpacity": {"field": "n", "type": "nominal", "scale": {"domain": ["OB", "ASE"], "range": [0.6, 0.88]}, "legend": null},
                    "order": {"field": "n", "type": "nominal", "sort": "descending"}
                  }
                },
                {"mark": {"type": "text", "font": "DejaVu Sans", "fontSize": 17, "dx": -5, "color": "black"}, "encoding": {"x": {"datum": "L7", "type": "nominal"}, "y": {"datum": 1.85, "type": "quantitative", "scale": {"domain": [0, 2], "nice": false},
                  "axis": {"title": "ONSR [%]", "titleFont": "DejaVu Sans", "titleFontSize": 11, "titleFontWeight": "normal", "titleColor": "black", "titlePadding": 3, "values": [0, 0.25, 0.5, 0.75, 1, 1.25, 1.5, 1.75, 2], "labelOverlap": false, "format": ".2f", "labelFont": "DejaVu Sans", "labelFontSize": 10, "labelColor": "black", "labelPadding": 2, "tickSize": 4, "tickColor": "#333", "domain": false, "grid": true, "gridColor": "#d0d0d0", "gridDash": [2, 2], "gridWidth": 0.8}}, "text": {"value": "DS"}}}
              ]
            },
            {
              "width": 165, "height": 200,
              "view": {"fill": "white", "stroke": "#333", "strokeWidth": 1},
              "data": {"name": "pd"},
              "transform": [{"filter": "datum.loc == 'Hub 2'"}],
              "layer": [
                {
                  "mark": {"type": "bar", "stroke": "#8a8a8a", "strokeWidth": 1.5},
                  "encoding": {
                    "x": {"field": "loc", "type": "nominal", "sort": null, "scale": {"type": "band", "domain": ["Hub 2"], "paddingInner": 0, "paddingOuter": 0.4, "align": 0.54},
                      "axis": {"title": null, "bandPosition": 0.545, "labelFont": "DejaVu Sans", "labelFontSize": 9, "labelColor": "black", "labelAngle": 0, "labelPadding": 0, "tickSize": 3, "tickColor": "#333", "domain": false, "grid": false}},
                    "xOffset": {"field": "u", "type": "nominal", "sort": null, "scale": {"domain": ["ZR", "XR", "MP"], "paddingInner": 0, "paddingOuter": 0}},
                    "y": {"field": "v", "type": "quantitative", "stack": "zero", "scale": {"domain": [0, 2], "nice": false},
                      "axis": {"title": null, "labels": false, "ticks": false, "values": [0, 0.25, 0.5, 0.75, 1, 1.25, 1.5, 1.75, 2], "domain": true, "domainColor": "#d0d0d0", "domainWidth": 3, "grid": true, "gridColor": "#d0d0d0", "gridDash": [2, 2], "gridWidth": 0.8}},
                    "fill": {"field": "a", "type": "nominal", "scale": {"domain": ["ZR", "XR", "MP"], "range": ["#1f77b4", "#ff7f0e", "#2ca02c"]}, "legend": null},
                    "fillOpacity": {"field": "n", "type": "nominal", "scale": {"domain": ["OB", "ASE"], "range": [0.6, 0.88]}, "legend": null},
                    "order": {"field": "n", "type": "nominal", "sort": "descending"}
                  }
                },
                {"mark": {"type": "text", "font": "DejaVu Sans", "fontSize": 17, "dx": 1, "color": "black"}, "encoding": {"x": {"datum": "Hub 2", "type": "nominal"}, "y": {"datum": 1.85, "type": "quantitative", "scale": {"domain": [0, 2], "nice": false},
                  "axis": {"title": null, "labels": false, "ticks": false, "values": [0, 0.25, 0.5, 0.75, 1, 1.25, 1.5, 1.75, 2], "domain": true, "domainColor": "#d0d0d0", "domainWidth": 3, "grid": true, "gridColor": "#d0d0d0", "gridDash": [2, 2], "gridWidth": 0.8}}, "text": {"value": "US"}}},
                {"mark": {"type": "text", "font": "DejaVu Sans", "fontSize": 12, "dx": 70, "color": "black"}, "encoding": {"x": {"datum": "Hub 2", "type": "nominal"}, "y": {"datum": 0.13, "type": "quantitative", "scale": {"domain": [0, 2], "nice": false},
                  "axis": {"title": null, "labels": false, "ticks": false, "values": [0, 0.25, 0.5, 0.75, 1, 1.25, 1.5, 1.75, 2], "domain": true, "domainColor": "#d0d0d0", "domainWidth": 3, "grid": true, "gridColor": "#d0d0d0", "gridDash": [2, 2], "gridWidth": 0.8}}, "text": {"value": "(d)"}}}
              ]
            }
          ]
        }
      ]
    }
  ]
}
